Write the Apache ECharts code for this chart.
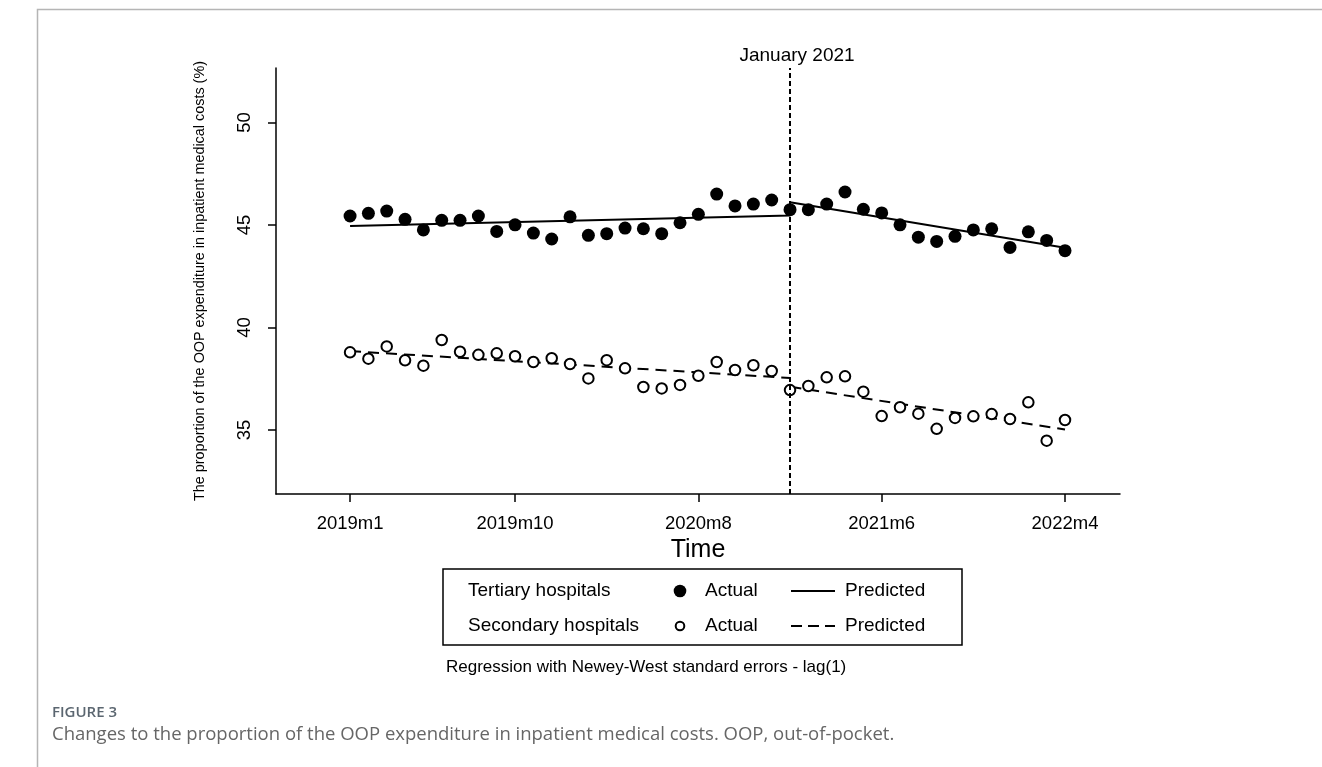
<!DOCTYPE html>
<html>
<head>
<meta charset="utf-8">
<script src="https://cdn.jsdelivr.net/npm/echarts@6/dist/echarts.min.js"></script>
<style>
html,body{margin:0;padding:0;background:#fff;}
#chart{width:1322px;height:767px;}
</style>
</head>
<body>
<div id="chart"></div>
<script>
// ---- data ----
const monthIndex = [0,1,2,3,4,5,6,7,8,9,10,11,12,13,14,15,16,17,18,19,20,21,22,23,24,25,26,27,28,29,30,31,32,33,34,35,36,37,38,39];
const tertiaryActual = [45.44,45.57,45.68,45.28,44.76,45.23,45.23,45.44,44.69,45.01,44.61,44.32,45.40,44.50,44.58,44.85,44.82,44.58,45.11,45.52,46.51,45.93,46.02,46.22,45.75,45.75,46.02,46.61,45.77,45.59,45.01,44.41,44.20,44.45,44.76,44.82,43.91,44.67,44.25,43.75];
const secondaryActual = [38.79,38.48,39.08,38.40,38.14,39.39,38.82,38.67,38.74,38.60,38.32,38.50,38.22,37.52,38.41,38.01,37.10,37.03,37.20,37.65,38.32,37.93,38.16,37.88,36.95,37.15,37.57,37.62,36.87,35.68,36.11,35.80,35.06,35.59,35.67,35.78,35.54,36.35,34.48,35.49];
const tertiaryPredX = [0,24,24,39];
const tertiaryPredY = [44.95,45.47,46.11,43.89];
const secondaryPredX = [0,24,24,39];
const secondaryPredY = [38.85,37.54,37.11,35.03];
const interventionIndex = 24;
const interventionLabel = 'January 2021';
const xTickIndex = [0,9,19,29,39];
const xTickLabels = ['2019m1','2019m10','2020m8','2021m6','2022m4'];
const yTicks = [35,40,45,50];
const legendRows = ['Tertiary hospitals', 'Secondary hospitals'];

const zip = (xs, ys) => xs.map((x, i) => [x, ys[i]]);
const FONT = '"Liberation Sans", Arial, sans-serif';
const CAP = '"Open Sans", "Noto Sans", sans-serif';

const chart = echarts.init(document.getElementById('chart'));

chart.setOption({
  animation: false,
  textStyle: { fontFamily: FONT },
  grid: { left: 276, right: 202, top: 68, bottom: 273, containLabel: false },
  xAxis: {
    type: 'value', min: -4.04, max: 42,
    name: 'Time', nameLocation: 'middle', nameGap: 43,
    nameTextStyle: { fontSize: 25, color: '#000', fontFamily: FONT },
    axisLine: { show: true, onZero: false, lineStyle: { color: '#000', width: 1.5 } },
    axisTick: { show: true, customValues: xTickIndex, length: 8, lineStyle: { color: '#000', width: 1.5 } },
    axisLabel: { customValues: xTickIndex, formatter: v => xTickLabels[xTickIndex.indexOf(v)], fontSize: 18.5, color: '#000', margin: 20, fontFamily: FONT },
    splitLine: { show: false }
  },
  yAxis: {
    type: 'value', min: 31.88, max: 52.66,
    name: 'The proportion of the OOP expenditure in inpatient medical costs (%)',
    nameLocation: 'middle', nameGap: 69, nameRotate: 90,
    nameTextStyle: { fontSize: 14.4, color: '#000', fontFamily: FONT },
    axisLine: { show: true, onZero: false, lineStyle: { color: '#000', width: 1.5 } },
    axisTick: { show: true, customValues: yTicks, length: 8, lineStyle: { color: '#000', width: 1.5 } },
    axisLabel: { customValues: yTicks, rotate: 90, fontSize: 18.5, color: '#000', margin: 22, fontFamily: FONT },
    splitLine: { show: false }
  },
  series: [
    { name: 'Tertiary hospitals Predicted', type: 'line', data: zip(tertiaryPredX, tertiaryPredY), showSymbol: false, symbol: 'none',
      lineStyle: { color: '#000', width: 2 }, itemStyle: { color: '#000' }, z: 2,
      markLine: {
        silent: true, symbol: 'none',
        lineStyle: { color: '#000', width: 2, type: [5, 3] },
        label: { show: true, position: 'end', formatter: interventionLabel, fontSize: 19, color: '#000', distance: 3, fontFamily: FONT, offset: [7, 0] },
        data: [{ xAxis: interventionIndex }]
      } },
    { name: 'Secondary hospitals Predicted', type: 'line', data: zip(secondaryPredX, secondaryPredY), showSymbol: false, symbol: 'none',
      lineStyle: { color: '#000', width: 2, type: [11, 7] }, itemStyle: { color: '#000' }, z: 2 },
    { name: 'Tertiary hospitals Actual', type: 'scatter', data: zip(monthIndex, tertiaryActual), symbol: 'circle', symbolSize: 13,
      itemStyle: { color: '#000', opacity: 1 }, z: 3 },
    { name: 'Secondary hospitals Actual', type: 'scatter', data: zip(monthIndex, secondaryActual), symbol: 'circle', symbolSize: 10.5,
      itemStyle: { color: '#fff', borderColor: '#000', borderWidth: 2, opacity: 1 }, z: 3 }
  ],
  graphic: [
    { type: 'polyline', shape: { points: [[37.5, 767], [37.5, 9.5], [1322, 9.5]] }, style: { stroke: '#b5b5b5', lineWidth: 1.5, fill: null }, silent: true },
    // legend box
    { type: 'rect', shape: { x: 443, y: 569, width: 519, height: 76 }, style: { stroke: '#000', lineWidth: 1.5, fill: null }, silent: true },
    { type: 'text', x: 468, y: 591, style: { text: legendRows[0], font: '19px ' + FONT, fill: '#000', textVerticalAlign: 'middle' }, silent: true },
    { type: 'text', x: 468, y: 626, style: { text: legendRows[1], font: '19px ' + FONT, fill: '#000', textVerticalAlign: 'middle' }, silent: true },
    { type: 'circle', shape: { cx: 680, cy: 591, r: 6.3 }, style: { fill: '#000' }, silent: true },
    { type: 'circle', shape: { cx: 680, cy: 626, r: 4.3 }, style: { fill: '#fff', stroke: '#000', lineWidth: 2 }, silent: true },
    { type: 'text', x: 705, y: 591, style: { text: 'Actual', font: '19px ' + FONT, fill: '#000', textVerticalAlign: 'middle' }, silent: true },
    { type: 'text', x: 705, y: 626, style: { text: 'Actual', font: '19px ' + FONT, fill: '#000', textVerticalAlign: 'middle' }, silent: true },
    { type: 'line', shape: { x1: 791, y1: 591, x2: 835, y2: 591 }, style: { stroke: '#000', lineWidth: 2 }, silent: true },
    { type: 'line', shape: { x1: 791, y1: 626, x2: 835, y2: 626 }, style: { stroke: '#000', lineWidth: 2, lineDash: [11, 6] }, silent: true },
    { type: 'text', x: 845, y: 591, style: { text: 'Predicted', font: '19px ' + FONT, fill: '#000', textVerticalAlign: 'middle' }, silent: true },
    { type: 'text', x: 845, y: 626, style: { text: 'Predicted', font: '19px ' + FONT, fill: '#000', textVerticalAlign: 'middle' }, silent: true },
    { type: 'text', x: 446, y: 667, style: { text: 'Regression with Newey-West standard errors - lag(1)', font: '17px ' + FONT, fill: '#000', textVerticalAlign: 'middle' }, silent: true },
    { type: 'text', x: 52, y: 713, style: { text: 'FIGURE 3', font: '600 15px ' + CAP, fill: '#5b6670', textVerticalAlign: 'middle' }, silent: true },
    { type: 'text', x: 52, y: 735, style: { text: 'Changes to the proportion of the OOP expenditure in inpatient medical costs. OOP, out-of-pocket.', font: '18.5px ' + CAP, fill: '#666', textVerticalAlign: 'middle' }, silent: true }
  ]
});
</script>
</body>
</html>
